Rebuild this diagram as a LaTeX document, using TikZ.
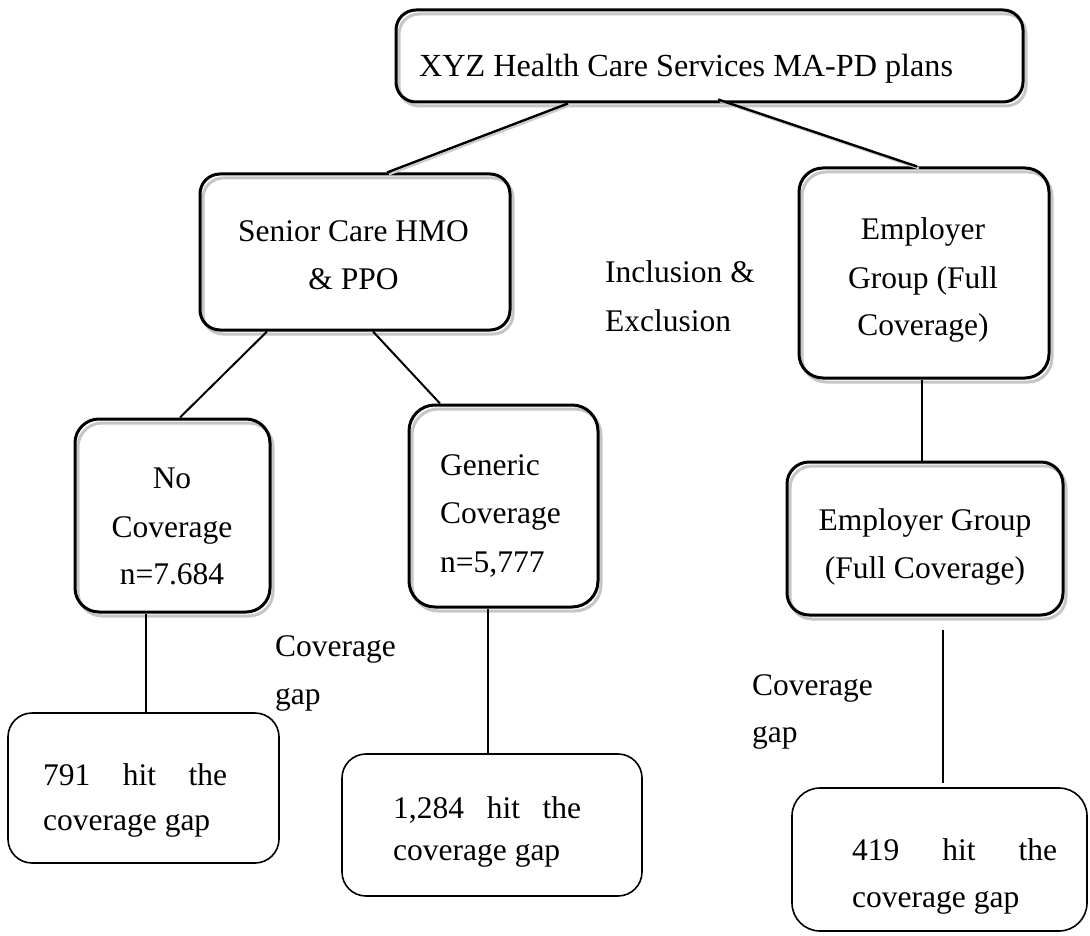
\documentclass[tikz,border=0pt]{standalone}
\usepackage{fontspec}
\setmainfont{Liberation Serif}
\usetikzlibrary{shadows}
\begin{document}
\begin{tikzpicture}[x=1pt,y=-1pt,
  shad/.style={drop shadow={opacity=1, fill=none, draw=gray!45, line width=3pt, shadow xshift=3pt, shadow yshift=-4pt}},
  bigbox/.style={draw, line width=3pt, rounded corners=20pt, inner sep=0pt, shad},
  smallbox/.style={draw, line width=1.6pt, rounded corners=24pt, inner sep=0pt},
  conn/.style={line width=1.5pt},
  diag/.style={line width=2.4pt, drop shadow={opacity=1, fill=none, draw=gray!40, line width=2pt, shadow xshift=2pt, shadow yshift=-2pt}},
  txt/.style={inner sep=0pt, anchor=base west, font=\fontsize{31.5}{38}\selectfont},
  txtc/.style={txt, anchor=base}]
\useasboundingbox (0,0) rectangle (1090,936);

% boxes
\node[bigbox, minimum width=627pt, minimum height=92pt] (top) at (709.5,56) {};
\node[bigbox, minimum width=310pt, minimum height=156pt] (senior) at (355,252) {};
\node[bigbox, minimum width=250pt, minimum height=210pt, rounded corners=24pt] (emp1) at (924,273) {};
\node[bigbox, minimum width=195pt, minimum height=193pt, rounded corners=24pt] (nocov) at (172.5,515.5) {};
\node[bigbox, minimum width=189pt, minimum height=202pt, rounded corners=26pt] (generic) at (503.5,506) {};
\node[bigbox, minimum width=276pt, minimum height=153pt, rounded corners=22pt] (emp2) at (925,538.5) {};
\node[smallbox, minimum width=271pt, minimum height=150pt] (b791) at (143.5,788) {};
\node[smallbox, minimum width=300pt, minimum height=142pt] (b1284) at (492,825) {};
\node[smallbox, minimum width=295pt, minimum height=143pt, rounded corners=28pt] (b419) at (939.5,859.5) {};

% connectors
\draw[diag] ([xshift=-141.5pt]top.south) -- ([xshift=32pt]senior.north);
\draw[diag] ([xshift=8.5pt,yshift=4pt]top.south) -- ([xshift=-7pt]emp1.north);
\draw[line width=2pt] ([xshift=-88pt]senior.south) -- ([xshift=7.5pt]nocov.north);
\draw[line width=2pt] ([xshift=18pt]senior.south) -- ([xshift=-63.5pt]generic.north);
\draw[conn] ([xshift=-2pt]emp1.south) -- ([xshift=-3pt]emp2.north);
\draw[conn] ([xshift=-26.5pt]nocov.south) -- ([xshift=2.5pt]b791.north);
\draw[conn] ([xshift=-15.5pt]generic.south) -- ([xshift=-4pt]b1284.north);
\draw[line width=2.4pt] ([xshift=18pt,yshift=-13pt]emp2.south) -- ([xshift=3.5pt,yshift=4pt]b419.north);

% texts
\node[txt, font=\fontsize{32.2}{38}\selectfont] (ttop) at (419,77) {XYZ Health Care Services MA-PD plans};
\node[txtc] (ts1) at (353.5,242) {Senior Care HMO};
\node[txtc] (ts2) at (353.5,289) {\& PPO};
\node[txtc] (te1) at (923,240) {Employer};
\node[txtc] (te2) at (923,288) {Group (Full};
\node[txtc] (te3) at (923,335) {Coverage)};
\node[txtc] (tf1) at (925,530) {Employer Group};
\node[txtc] (tf2) at (925,578) {(Full Coverage)};
\node[txtc] (tn1) at (172,488) {No};
\node[txtc] (tn2) at (172,537) {Coverage};
\node[txtc] (tn3) at (172,584) {n=7.684};
\node[txt] (tg1) at (440,475) {Generic};
\node[txt] (tg2) at (440,523) {Coverage};
\node[txt] (tg3) at (440,572) {n=5,777};
\node[txt] (ti1) at (605,283) {Inclusion \&};
\node[txt] (ti2) at (605,331) {Exclusion};
\node[txt] (tc1) at (275,656) {Coverage};
\node[txt] (tc2) at (275,704) {gap};
\node[txt] (td1) at (752,695) {Coverage};
\node[txt] (td2) at (752,742) {gap};
\node[txt] (tb1) at (43,785) {\hbox to 184pt{791\hfill hit\hfill the}};
\node[txt] (tb2) at (43,830) {coverage gap};
\node[txt] (tk1) at (393,818) {\hbox to 188pt{1,284\hfill hit\hfill the}};
\node[txt] (tk2) at (393,860) {coverage gap};
\node[txt] (tm1) at (852,860) {\hbox to 205pt{419\hfill hit\hfill the}};
\node[txt] (tm2) at (852,907) {coverage gap};
\end{tikzpicture}
\end{document}
